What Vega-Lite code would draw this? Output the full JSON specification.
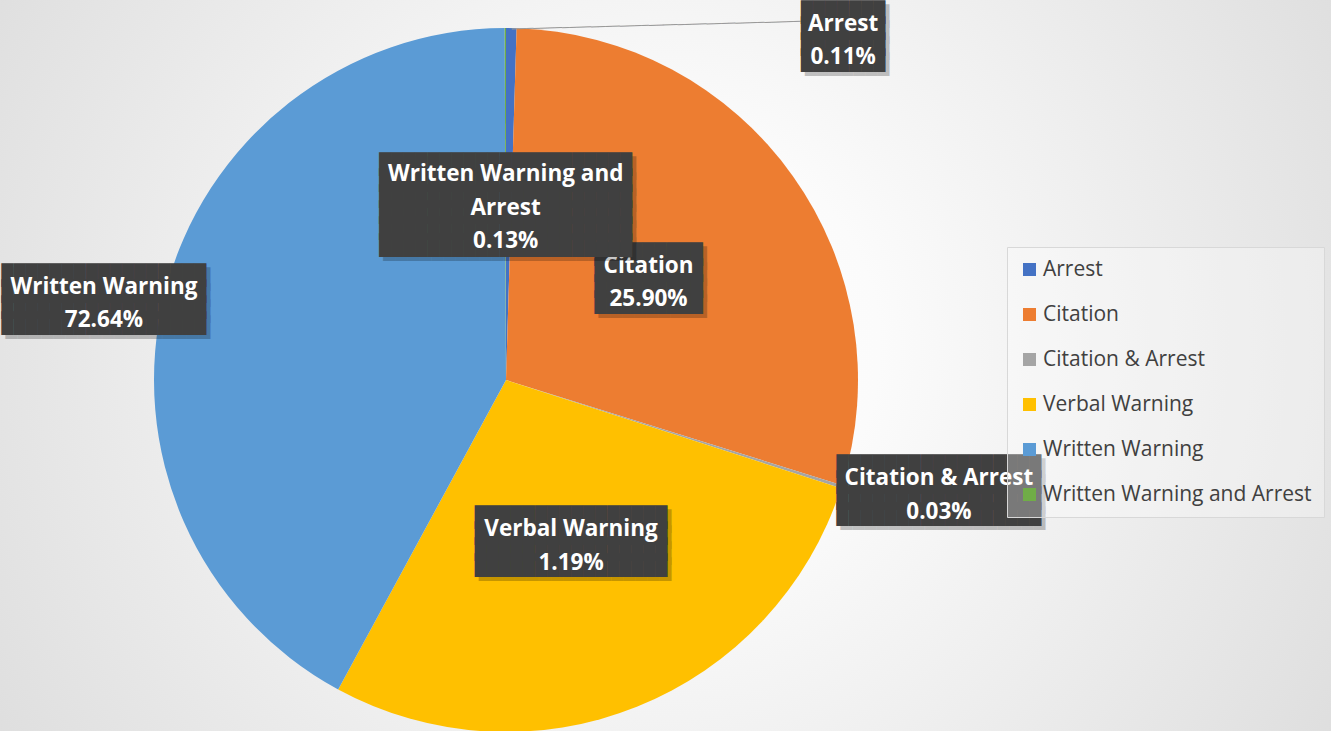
{
  "$schema": "https://vega.github.io/schema/vega-lite/v6.json",
  "width": 1650,
  "height": 760,
  "padding": {"left": -319, "top": 0, "right": 0, "bottom": 0},
  "autosize": {"type": "none"},
  "background": "#dcdcdc",
  "view": {
    "stroke": null,
    "fill": {
      "gradient": "radial",
      "x1": 0.596, "y1": 0.48, "r1": 0,
      "x2": 0.596, "y2": 0.48, "r2": 0.65,
      "stops": [
        {"offset": 0, "color": "#ffffff"},
        {"offset": 0.2, "color": "#fbfbfb"},
        {"offset": 1, "color": "#cfcfcf"}
      ]
    }
  },
  "data": {
    "values": [
      {"cat": "Arrest", "share": 0.48, "pct": "0.11%"},
      {"cat": "Citation", "share": 29.35, "pct": "25.90%"},
      {"cat": "Citation & Arrest", "share": 0.14, "pct": "0.03%"},
      {"cat": "Verbal Warning", "share": 27.94, "pct": "1.19%"},
      {"cat": "Written Warning", "share": 42.03, "pct": "72.64%"},
      {"cat": "Written Warning and Arrest", "share": 0.06, "pct": "0.13%"}
    ]
  },
  "transform": [
    {"calculate": "datum.cat === 'Written Warning and Arrest' ? ['Written Warning and', 'Arrest', datum.pct] : [datum.cat, datum.pct]", "as": "lines"}
  ],
  "encoding": {
    "theta": {"field": "share", "type": "quantitative", "stack": true},
    "order": {"field": "cat", "type": "ordinal", "sort": "ascending"}
  },
  "layer": [
    {
      "mark": {"type": "arc", "outerRadius": 352},
      "encoding": {
        "color": {
          "field": "cat",
          "type": "nominal",
          "scale": {
            "domain": ["Arrest", "Citation", "Citation & Arrest", "Verbal Warning", "Written Warning", "Written Warning and Arrest"],
            "range": ["#4472c4", "#ed7d31", "#a5a5a5", "#ffc000", "#5b9bd5", "#70ad47"]
          },
          "legend": {
            "title": null,
            "orient": "none",
            "legendX": 1326,
            "legendY": 247,
            "symbolType": "square",
            "symbolSize": 169,
            "symbolStrokeWidth": 0,
            "labelFont": "Open Sans",
            "labelFontSize": 21,
            "labelColor": "#404040",
            "labelOffset": 3,
            "labelLimit": 400,
            "rowPadding": 23,
            "padding": 12,
            "fillColor": "rgba(255,255,255,0.3)",
            "strokeColor": "#d8d8d8"
          }
        }
      }
    },
    {
      "mark": {"type": "text", "font": "DejaVu Sans Mono", "fontSize": 12, "color": "#9a9a9a", "radius": 385.2, "thetaOffset": 0.385, "angle": -1.5, "align": "center", "baseline": "middle"},
      "encoding": {
        "detail": {"field": "cat"},
        "text": {"condition": {"test": "datum.cat === 'Arrest'", "value": "────────────────────────────────────────"}, "value": ""}
      }
    },
    {
      "mark": {"type": "text", "font": "DejaVu Sans Mono", "fontSize": 20, "lineHeight": 16, "color": "#000000", "opacity": 0.22, "dx": 4, "dy": -20, "radius": 175, "align": "center", "baseline": "middle"},
      "encoding": {
        "detail": {"field": "cat"},
        "text": {
          "condition": [
            {"test": "datum.cat === 'Citation'", "value": ["█████████", "█████████", "█████████", "█████████"]},
            {"test": "datum.cat === 'Verbal Warning'", "value": ["████████████████", "████████████████", "████████████████", "████████████████"]}
          ],
          "value": ""
        }
      }
    },
    {
      "mark": {"type": "text", "font": "DejaVu Sans Mono", "fontSize": 20, "lineHeight": 16, "color": "#404040", "dy": -24, "radius": 175, "align": "center", "baseline": "middle"},
      "encoding": {
        "detail": {"field": "cat"},
        "text": {
          "condition": [
            {"test": "datum.cat === 'Citation'", "value": ["█████████", "█████████", "█████████", "█████████"]},
            {"test": "datum.cat === 'Verbal Warning'", "value": ["████████████████", "████████████████", "████████████████", "████████████████"]}
          ],
          "value": ""
        }
      }
    },
    {
      "mark": {"type": "text", "font": "Open Sans", "fontSize": 22.5, "fontWeight": "bold", "lineHeight": 33.5, "color": "#ffffff", "dy": -13, "radius": 175, "align": "center", "baseline": "middle"},
      "encoding": {
        "detail": {"field": "cat"},
        "text": {"condition": {"test": "datum.cat === 'Citation' || datum.cat === 'Verbal Warning'", "field": "lines"}, "value": ""}
      }
    },
    {
      "mark": {"type": "text", "font": "DejaVu Sans Mono", "fontSize": 20, "lineHeight": 16.2, "color": "#000000", "opacity": 0.22, "dx": 4, "dy": -36.5, "radius": 175, "align": "center", "baseline": "middle"},
      "encoding": {
        "detail": {"field": "cat"},
        "text": {"condition": {"test": "datum.cat === 'Written Warning and Arrest'", "value": ["█████████████████████", "█████████████████████", "█████████████████████", "█████████████████████", "█████████████████████", "█████████████████████"]}, "value": ""}
      }
    },
    {
      "mark": {"type": "text", "font": "DejaVu Sans Mono", "fontSize": 20, "lineHeight": 16.2, "color": "#404040", "dy": -40.5, "radius": 175, "align": "center", "baseline": "middle"},
      "encoding": {
        "detail": {"field": "cat"},
        "text": {"condition": {"test": "datum.cat === 'Written Warning and Arrest'", "value": ["█████████████████████", "█████████████████████", "█████████████████████", "█████████████████████", "█████████████████████", "█████████████████████"]}, "value": ""}
      }
    },
    {
      "mark": {"type": "text", "font": "Open Sans", "fontSize": 22.5, "fontWeight": "bold", "lineHeight": 33.5, "color": "#ffffff", "dy": -31, "radius": 175, "align": "center", "baseline": "middle"},
      "encoding": {
        "detail": {"field": "cat"},
        "text": {"condition": {"test": "datum.cat === 'Written Warning and Arrest'", "field": "lines"}, "value": ""}
      }
    },
    {
      "mark": {"type": "text", "font": "DejaVu Sans Mono", "fontSize": 20, "lineHeight": 16, "color": "#000000", "opacity": 0.22, "dx": 4, "dy": -20, "radius": 410, "thetaOffset": -0.0494, "align": "center", "baseline": "middle"},
      "encoding": {
        "detail": {"field": "cat"},
        "text": {"condition": {"test": "datum.cat === 'Written Warning'", "value": ["█████████████████", "█████████████████", "█████████████████", "█████████████████"]}, "value": ""}
      }
    },
    {
      "mark": {"type": "text", "font": "DejaVu Sans Mono", "fontSize": 20, "lineHeight": 16, "color": "#404040", "dy": -24, "radius": 410, "thetaOffset": -0.0494, "align": "center", "baseline": "middle"},
      "encoding": {
        "detail": {"field": "cat"},
        "text": {"condition": {"test": "datum.cat === 'Written Warning'", "value": ["█████████████████", "█████████████████", "█████████████████", "█████████████████"]}, "value": ""}
      }
    },
    {
      "mark": {"type": "text", "font": "Open Sans", "fontSize": 22.5, "fontWeight": "bold", "lineHeight": 33.5, "color": "#ffffff", "dy": -13, "radius": 410, "thetaOffset": -0.0494, "align": "center", "baseline": "middle"},
      "encoding": {
        "detail": {"field": "cat"},
        "text": {"condition": {"test": "datum.cat === 'Written Warning'", "field": "lines"}, "value": ""}
      }
    },
    {
      "mark": {"type": "text", "font": "DejaVu Sans Mono", "fontSize": 20, "lineHeight": 16, "color": "#000000", "opacity": 0.22, "dx": 4, "dy": -20, "radius": 447, "thetaOffset": -0.0566, "align": "center", "baseline": "middle"},
      "encoding": {
        "detail": {"field": "cat"},
        "text": {"condition": {"test": "datum.cat === 'Citation & Arrest'", "value": ["█████████████████", "█████████████████", "█████████████████", "█████████████████"]}, "value": ""}
      }
    },
    {
      "mark": {"type": "text", "font": "DejaVu Sans Mono", "fontSize": 20, "lineHeight": 16, "color": "#404040", "dy": -24, "radius": 447, "thetaOffset": -0.0566, "align": "center", "baseline": "middle"},
      "encoding": {
        "detail": {"field": "cat"},
        "text": {"condition": {"test": "datum.cat === 'Citation & Arrest'", "value": ["█████████████████", "█████████████████", "█████████████████", "█████████████████"]}, "value": ""}
      }
    },
    {
      "mark": {"type": "text", "font": "Open Sans", "fontSize": 22.5, "fontWeight": "bold", "lineHeight": 33.5, "color": "#ffffff", "dy": -13, "radius": 447, "thetaOffset": -0.0566, "align": "center", "baseline": "middle"},
      "encoding": {
        "detail": {"field": "cat"},
        "text": {"condition": {"test": "datum.cat === 'Citation & Arrest'", "field": "lines"}, "value": ""}
      }
    },
    {
      "mark": {"type": "text", "font": "DejaVu Sans Mono", "fontSize": 20, "lineHeight": 16, "color": "#000000", "opacity": 0.22, "dx": 4, "dy": -20, "radius": 481, "thetaOffset": 0.7616, "align": "center", "baseline": "middle"},
      "encoding": {
        "detail": {"field": "cat"},
        "text": {"condition": {"test": "datum.cat === 'Arrest'", "value": ["███████", "███████", "███████", "███████"]}, "value": ""}
      }
    },
    {
      "mark": {"type": "text", "font": "DejaVu Sans Mono", "fontSize": 20, "lineHeight": 16, "color": "#404040", "dy": -24, "radius": 481, "thetaOffset": 0.7616, "align": "center", "baseline": "middle"},
      "encoding": {
        "detail": {"field": "cat"},
        "text": {"condition": {"test": "datum.cat === 'Arrest'", "value": ["███████", "███████", "███████", "███████"]}, "value": ""}
      }
    },
    {
      "mark": {"type": "text", "font": "Open Sans", "fontSize": 22.5, "fontWeight": "bold", "lineHeight": 33.5, "color": "#ffffff", "dy": -13, "radius": 481, "thetaOffset": 0.7616, "align": "center", "baseline": "middle"},
      "encoding": {
        "detail": {"field": "cat"},
        "text": {"condition": {"test": "datum.cat === 'Arrest'", "field": "lines"}, "value": ""}
      }
    }
  ]
}
